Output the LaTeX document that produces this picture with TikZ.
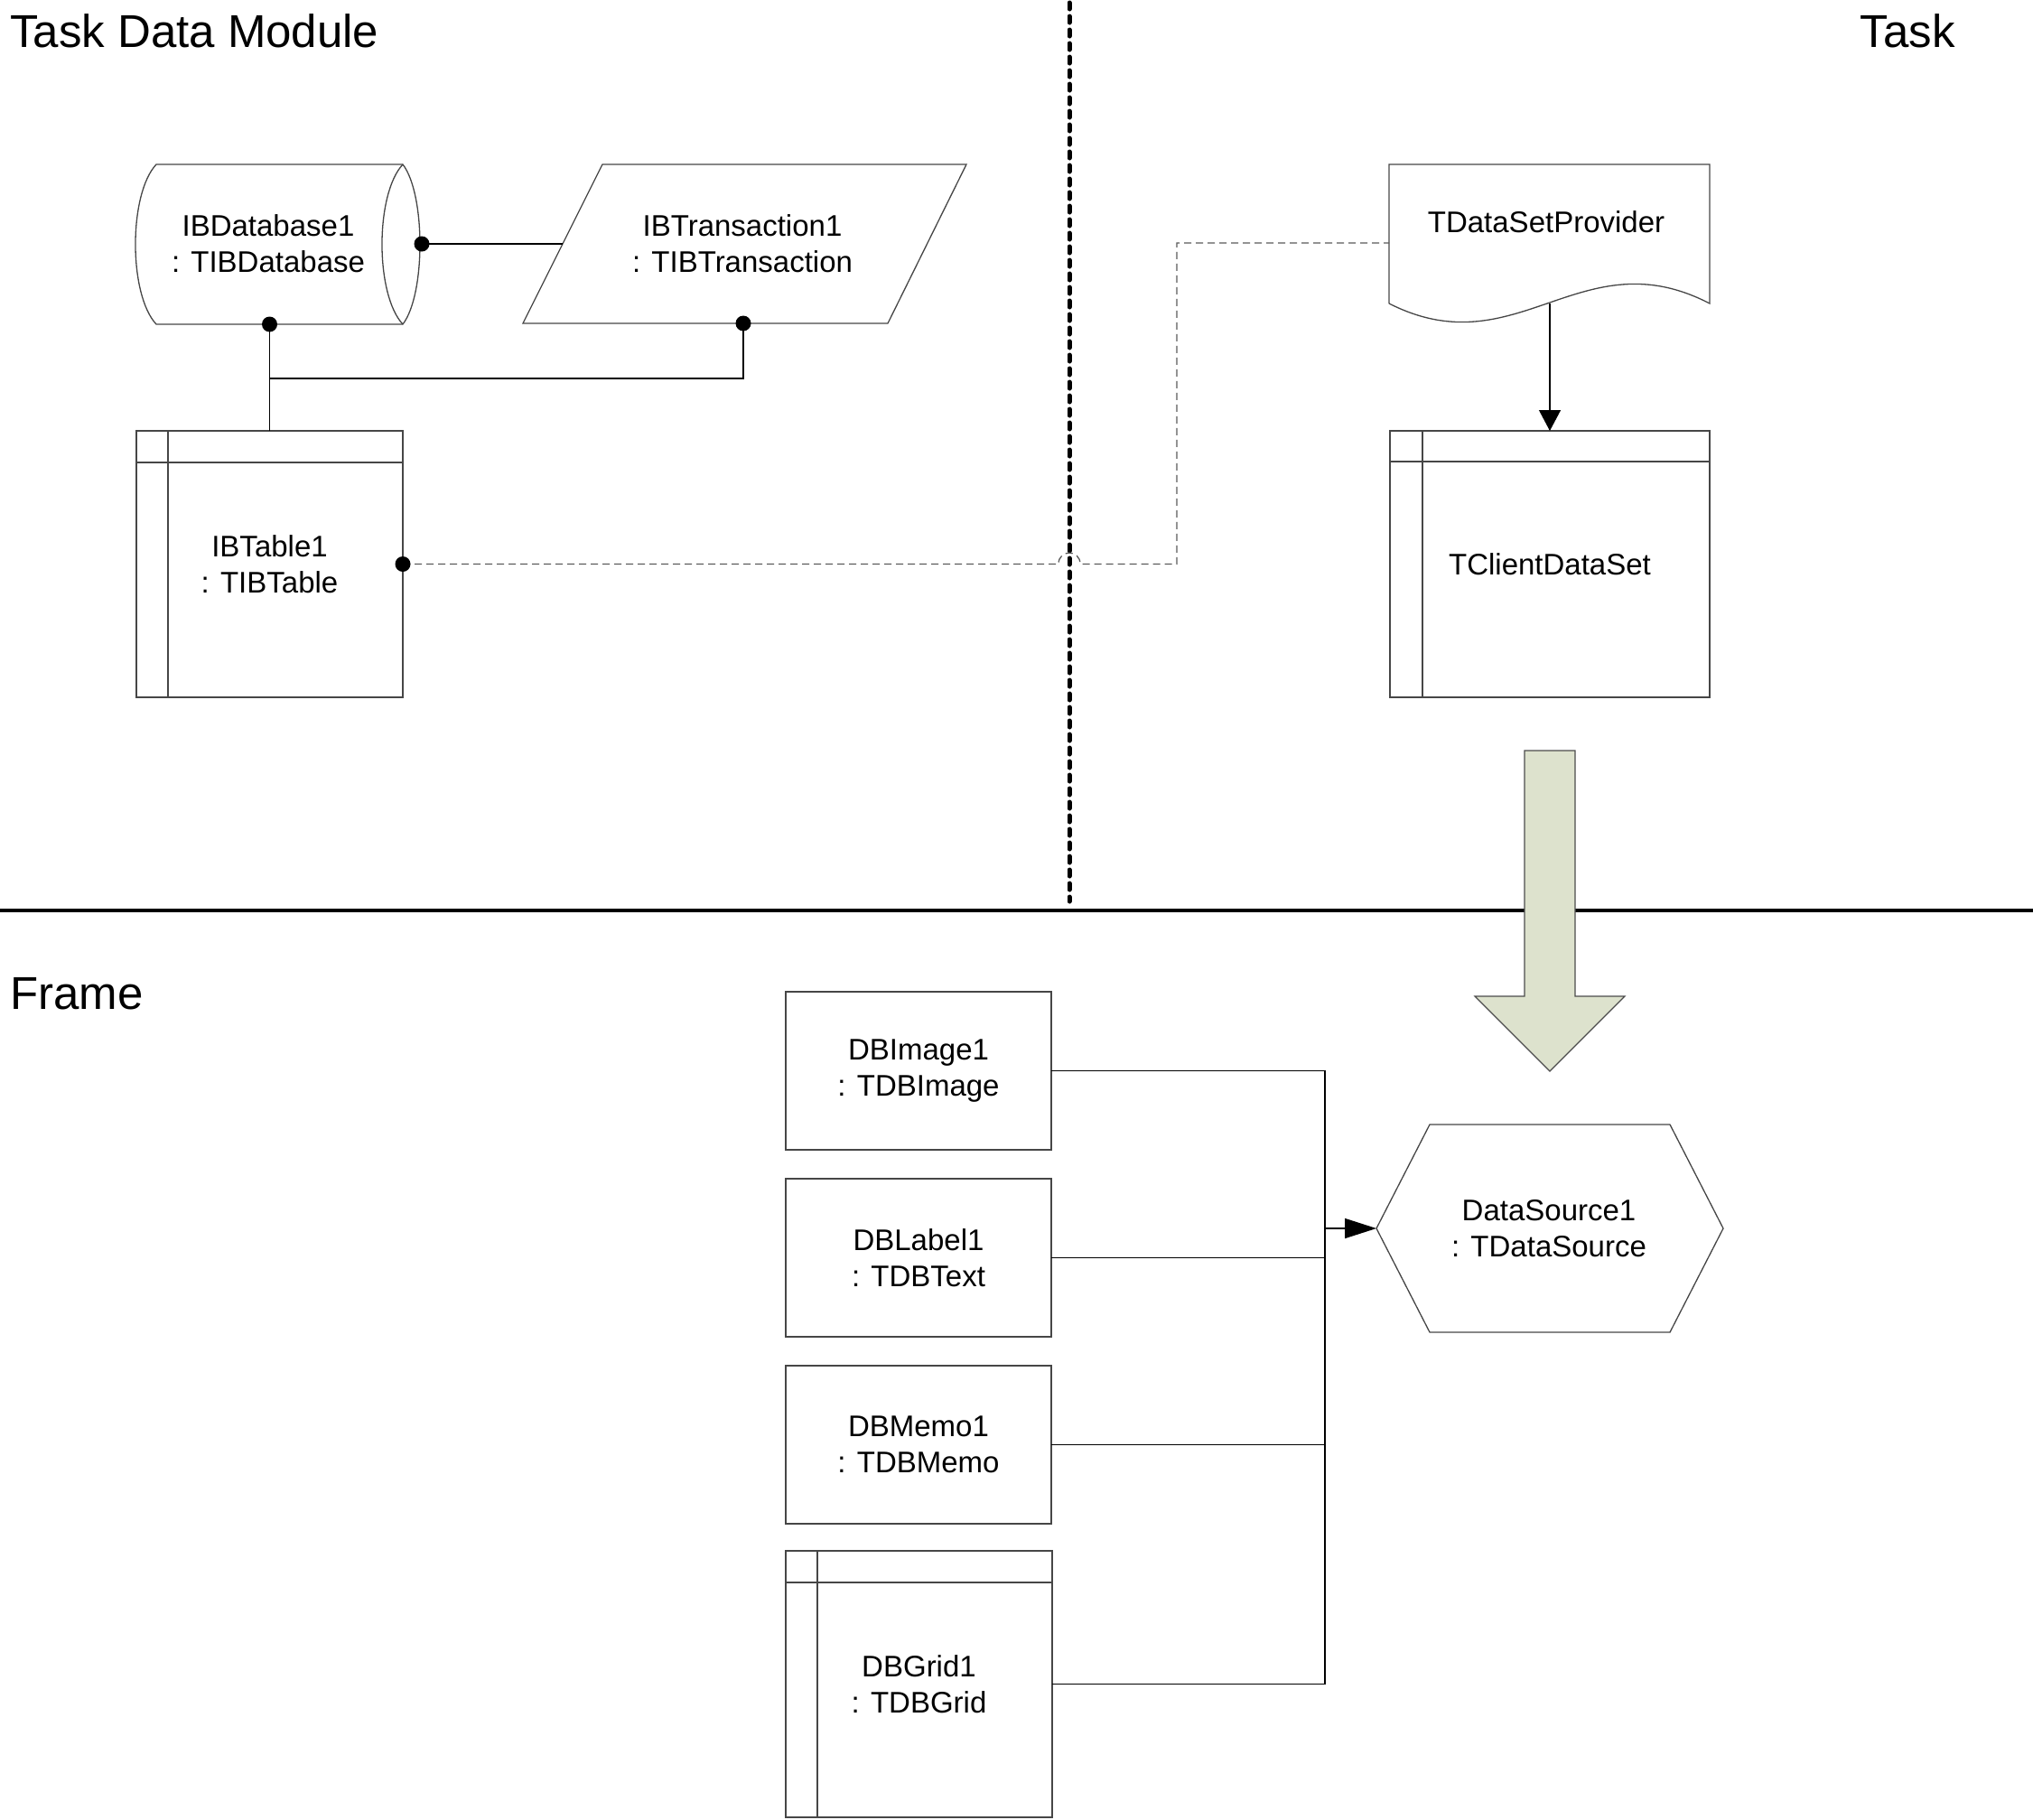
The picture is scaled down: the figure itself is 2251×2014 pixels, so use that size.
\documentclass[tikz,border=0pt]{standalone}
\usepackage{fontspec}
\setmainfont{Liberation Sans}
\usetikzlibrary{arrows.meta}
\definecolor{arrowfill}{RGB}{221,226,205}
\definecolor{shapeline}{RGB}{70,70,70}
\begin{document}
\begin{tikzpicture}[x=1pt,y=-1pt,
  txt/.style={font=\fontsize{33}{40}\selectfont, align=center, inner sep=0pt},
  title/.style={font=\fontsize{51}{60}\selectfont, inner sep=0pt},
  box/.style={draw=shapeline, line width=1.3pt, outer sep=0pt, inner sep=0pt, fill=white,
              font=\fontsize{33}{40}\selectfont, align=center},
  shp/.style={draw=shapeline, line width=1.3pt},
  conn/.style={line width=1.3pt, black},
  dashconn/.style={line width=1.3pt, black!65, dash pattern=on 8pt off 5pt},
  dotmark/.style={fill=black}]
\useasboundingbox (0,0) rectangle (2251,2014);

% titles
\node[title, anchor=base west] (t1) at (11,52) {Task Data Module};
\node[title, anchor=base east] (t2) at (2165,52) {Task};
\node[title, anchor=base west] (t3) at (11,1117) {Frame};

% separators
\draw[line width=5pt, line cap=round, dash pattern=on 7pt off 8pt] (1184,3) -- (1184,998);
\draw[line width=4pt] (0,1008) -- (2251,1008);

% IBDatabase
\draw[shp] (173,182) -- (446,182) .. controls (471.3,215) and (471.3,326) .. (446,359)
  -- (173,359) .. controls (142.3,326) and (142.3,215) .. (173,182) -- cycle;
\draw[shp] (446,182) .. controls (415.3,215) and (415.3,326) .. (446,359);
\node[txt] (db) at (297,270) {IBDatabase1\\: TIBDatabase};
\coordinate (db-e) at (467,270);
\coordinate (db-s) at (298.5,359);

% IBTransaction
\draw[shp] (667,182) -- (1070,182) -- (983,358) -- (579,358) -- cycle;
\node[txt] (tr) at (822,270) {IBTransaction1\\: TIBTransaction};
\coordinate (tr-w) at (623,270);
\coordinate (tr-s) at (823,358);

% IBTable
\node[box, minimum width=295pt, minimum height=295pt] (tbl) at (298.5,624.5) {IBTable1\\: TIBTable};
\draw[shp] ([yshift=-35pt]tbl.north west) -- ([yshift=-35pt]tbl.north east);
\draw[shp] ([xshift=35pt]tbl.north west) -- ([xshift=35pt]tbl.south west);

\coordinate (jn) at (298.5,419);
\draw[conn] (db-e) -- (tr-w);
\draw[conn] (db-s) -- (tbl.north);
\draw[conn] (tr-s) |- (jn);
\fill[dotmark] (db-e) circle[radius=8.5pt];
\fill[dotmark] (db-s) circle[radius=8.5pt];
\fill[dotmark] (tr-s) circle[radius=8.5pt];

% TDataSetProvider
\draw[shp] (1538,336) -- (1538,182) -- (1893,182) -- (1893,336)
  .. controls (1750,262) and (1680,408) .. (1538,336);
\node[txt, anchor=base] (dsp) at (1712,257) {TDataSetProvider};
\coordinate (dsp-s) at (1716,336);
\coordinate (dsp-w) at (1538,269);

% TClientDataSet
\node[box, minimum width=354pt, minimum height=295pt] (cds) at (1716,624.5) {TClientDataSet};
\draw[shp] ([yshift=-34pt]cds.north west) -- ([yshift=-34pt]cds.north east);
\draw[shp] ([xshift=36pt]cds.north west) -- ([xshift=36pt]cds.south west);

\draw[conn, -{Triangle[length=23pt,width=24pt]}] (dsp-s) -- (cds.north);

% dashed link with hop
\draw[dashconn] (tbl.east) -- (1172,624.5) .. controls (1172,608) and (1196,608) .. (1196,624.5)
  -- (1303,624.5) -- (1303,269) -- (dsp-w);
\fill[dotmark] (tbl.east) circle[radius=8.5pt];

% big arrow
\draw[fill=arrowfill, draw=black!70, line width=1.2pt]
  (1688,831) -- (1744,831) -- (1744,1103) -- (1799,1103) -- (1716,1186)
  -- (1633,1103) -- (1688,1103) -- cycle;

% Frame components
\node[box, minimum width=294pt, minimum height=175pt] (img) at (1017,1185.5) {DBImage1\\: TDBImage};
\node[box, minimum width=294pt, minimum height=175pt] (lbl) at (1017,1392.5) {DBLabel1\\: TDBText};
\node[box, minimum width=294pt, minimum height=175pt] (memo) at (1017,1599.5) {DBMemo1\\: TDBMemo};
\node[box, minimum width=295pt, minimum height=295pt] (grid) at (1017.5,1864.5) {DBGrid1\\: TDBGrid};
\draw[shp] ([yshift=-35pt]grid.north west) -- ([yshift=-35pt]grid.north east);
\draw[shp] ([xshift=35pt]grid.north west) -- ([xshift=35pt]grid.south west);

% DataSource hexagon
\draw[shp] (1524,1360) -- (1583,1245) -- (1849,1245) -- (1908,1360) -- (1849,1475) -- (1583,1475) -- cycle;
\node[txt] (ds) at (1715,1360) {DataSource1\\: TDataSource};
\coordinate (ds-w) at (1524,1360);

\coordinate (busT) at (1467,1185.5);
\draw[conn] (img.east) -- (busT) |- (grid.east);
\draw[conn] (lbl.east) -- (lbl.east -| busT);
\draw[conn] (memo.east) -- (memo.east -| busT);
\draw[line width=1.6pt, -{Triangle[length=35pt,width=22pt]}] (ds-w -| busT) -- (ds-w);
\end{tikzpicture}
\end{document}
